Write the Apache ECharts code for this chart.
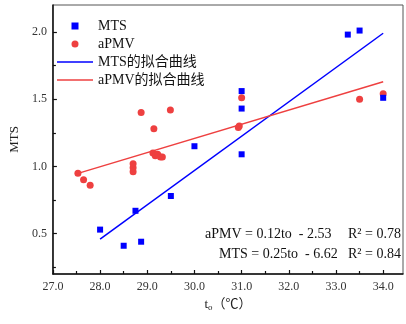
<!DOCTYPE html>
<html><head><meta charset="utf-8">
<script src="https://cdn.jsdelivr.net/npm/echarts@6/dist/echarts.min.js"></script>
<style>html,body{margin:0;padding:0;background:#fff}#c{width:406px;height:324px}</style>
</head><body><div id="c"></div>
<script>
const mtsX = [28.0, 28.5, 28.75, 28.87, 29.5, 30.0, 31.0, 31.0, 31.0, 33.25, 33.5, 34.0];
const mtsY = [0.53, 0.41, 0.67, 0.44, 0.78, 1.15, 1.56, 1.43, 1.09, 1.98, 2.01, 1.51];
const apmvX = [27.53, 27.65, 27.79, 28.7, 28.7, 28.7, 28.87, 29.14, 29.49, 29.12, 29.17, 29.22, 29.28, 29.32, 30.93, 30.95, 31.0, 33.5, 34.0];
const apmvY = [0.95, 0.90, 0.86, 0.96, 0.99, 1.02, 1.40, 1.28, 1.42, 1.10, 1.08, 1.09, 1.07, 1.07, 1.29, 1.30, 1.51, 1.50, 1.54];
const mtsFitX = [28.0, 34.0];
const mtsFitY = [0.46, 1.99];
const apmvFitX = [27.55, 34.0];
const apmvFitY = [0.95, 1.63];
const xTicks = [27, 28, 29, 30, 31, 32, 33, 34];
const xMinor = [27.5, 28.5, 29.5, 30.5, 31.5, 32.5, 33.5];
const yTicks = [0.5, 1.0, 1.5, 2.0];
const yMinor = [0.25, 0.75, 1.25, 1.75];
const names = ['MTS', 'aPMV', 'MTS的拟合曲线', 'aPMV的拟合曲线'];
const eqLines = [['aPMV = 0.12to  - 2.53', 'R² = 0.78'], ['MTS = 0.25to  - 6.62', 'R² = 0.84']];

const FONT = '"Liberation Serif", "Times New Roman", "Noto Sans CJK SC", serif';
const zip = (a, b) => a.map((v, i) => [v, b[i]]);
const chart = echarts.init(document.getElementById('c'), null, {renderer: 'canvas'});
const XMIN = 27, XMAX = 34.42, YMIN = 0.2, YMAX = 2.2;
const baseX = {type: 'value', min: XMIN, max: XMAX, splitLine: {show: false}};
const baseY = {type: 'value', min: YMIN, max: YMAX, splitLine: {show: false}};
const SQ = 'path://M0,0h1v1h-1z';
const LN = 'path://M0,0h36v1.5h-36z';
chart.setOption({
  animation: false,
  backgroundColor: '#fff',
  textStyle: {fontFamily: FONT},
  grid: {left: 48, right: 3, top: 5, bottom: 50, show: true, borderColor: '#555', borderWidth: 1},
  legend: {
    data: [
      {name: names[0], icon: SQ},
      {name: names[1], icon: 'circle'},
      {name: names[2], icon: LN},
      {name: names[3], icon: LN}
    ],
    orient: 'vertical', left: 52, top: 14, itemGap: 4,
    itemWidth: 36, itemHeight: 7, symbolKeepAspect: true,
    textStyle: {fontFamily: FONT, fontSize: 14, color: '#111'}
  },
  xAxis: [
    Object.assign({}, baseX, {
      name: 't{s|o}（℃）', nameLocation: 'middle', nameGap: 19,
      nameTextStyle: {fontFamily: FONT, fontSize: 13, color: '#222',
        rich: {s: {fontFamily: FONT, fontSize: 9, verticalAlign: 'bottom', padding: [6, 0, 0, 0]}}},
      axisLine: {show: true, onZero: false, lineStyle: {color: '#111', width: 1.5}},
      axisTick: {show: true, inside: true, length: 4, customValues: xTicks, lineStyle: {color: '#111', width: 1.2}},
      axisLabel: {customValues: xTicks, formatter: v => v.toFixed(1), fontFamily: FONT, fontSize: 12, color: '#333', margin: 7}
    }),
    Object.assign({}, baseX, {
      position: 'bottom',
      axisLine: {show: false},
      axisTick: {show: true, inside: true, length: 3, customValues: xMinor, lineStyle: {color: '#111', width: 1.2}},
      axisLabel: {show: false}
    })
  ],
  yAxis: [
    Object.assign({}, baseY, {
      name: 'MTS', nameLocation: 'middle', nameGap: 24, nameRotate: 90,
      nameTextStyle: {fontFamily: FONT, fontSize: 13, color: '#222'},
      axisLine: {show: true, onZero: false, lineStyle: {color: '#111', width: 1.5}},
      axisTick: {show: true, inside: true, length: 4, customValues: yTicks, lineStyle: {color: '#111', width: 1.2}},
      axisLabel: {customValues: yTicks, formatter: v => v.toFixed(1), fontFamily: FONT, fontSize: 12, color: '#333', margin: 6}
    }),
    Object.assign({}, baseY, {
      position: 'left',
      axisLine: {show: false},
      axisTick: {show: true, inside: true, length: 3, customValues: yMinor, lineStyle: {color: '#111', width: 1.2}},
      axisLabel: {show: false}
    })
  ],
  series: [
    {name: names[0], type: 'scatter', symbol: 'rect', symbolSize: 6, data: zip(mtsX, mtsY), itemStyle: {color: '#0000ff', opacity: 1}, z: 5},
    {name: names[1], type: 'scatter', symbol: 'circle', symbolSize: 7, data: zip(apmvX, apmvY), itemStyle: {color: '#ee4040', opacity: 1}, z: 4},
    {name: names[2], type: 'line', symbol: 'none', showSymbol: false, data: zip(mtsFitX, mtsFitY), lineStyle: {color: '#0000ff', width: 1.5}, itemStyle: {color: '#0000ff'}},
    {name: names[3], type: 'line', symbol: 'none', showSymbol: false, data: zip(apmvFitX, apmvFitY), lineStyle: {color: '#ee4040', width: 1.5}, itemStyle: {color: '#ee4040'}}
  ],
  graphic: [
    {type: 'text', left: 205, top: 227, style: {text: eqLines[0][0], font: '14px ' + FONT, fill: '#111'}},
    {type: 'text', left: 348, top: 227, style: {text: eqLines[0][1], font: '14px ' + FONT, fill: '#111'}},
    {type: 'text', left: 219, top: 247, style: {text: eqLines[1][0], font: '14px ' + FONT, fill: '#111'}},
    {type: 'text', left: 348, top: 247, style: {text: eqLines[1][1], font: '14px ' + FONT, fill: '#111'}}
  ]
});
</script></body></html>
